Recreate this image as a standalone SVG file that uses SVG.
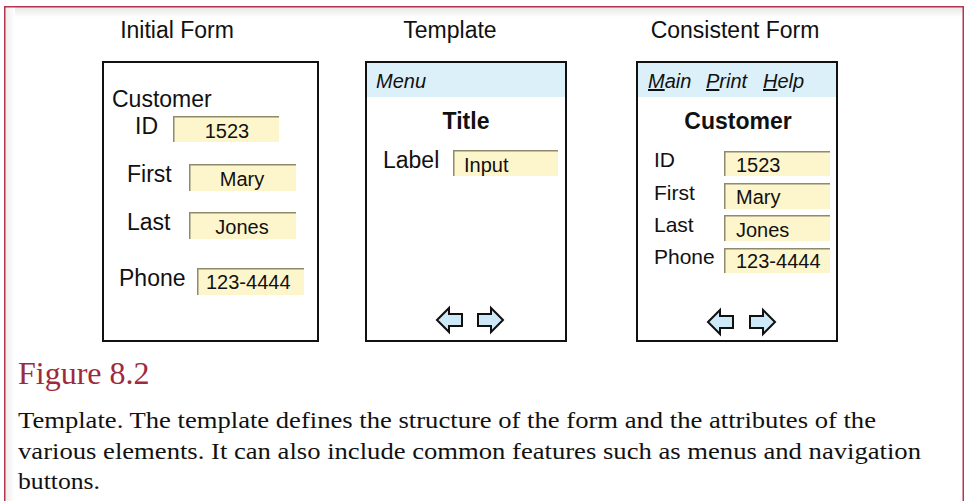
<svg xmlns="http://www.w3.org/2000/svg" width="966" height="501" viewBox="0 0 966 501">
  <style>
    .hdr { font-family: "Liberation Sans", Arial, sans-serif; font-size: 23px; fill: #111; }
    .lbl { font-family: "Liberation Sans", Arial, sans-serif; font-size: 23px; fill: #111; }
    .lbl2 { font-family: "Liberation Sans", Arial, sans-serif; font-size: 21px; fill: #111; }
    .val { font-family: "Liberation Sans", Arial, sans-serif; font-size: 20px; fill: #111; }
    .ttl { font-family: "Liberation Sans", Arial, sans-serif; font-size: 23px; font-weight: bold; fill: #111; }
    .menu { font-family: "Liberation Sans", Arial, sans-serif; font-size: 20px; font-style: italic; fill: #111; }
    .frame { fill: #fff; stroke: #111; stroke-width: 2; }
    .bar { fill: #dcf0fa; }
    .field { fill: #fdf6cc; }
    .edge { fill: none; stroke: #8e8a6c; stroke-width: 1.5; }
    .nav { fill: #cde9f7; stroke: #111; stroke-width: 2; stroke-linejoin: miter; }
    .fig { font-family: "Liberation Serif", "Times New Roman", serif; font-size: 32px; fill: #9e2a3d; }
    .cap { font-family: "Liberation Serif", "Times New Roman", serif; font-size: 24px; fill: #111; }
  </style>
  <defs>
    <linearGradient id="shadeTop" x1="0" y1="0" x2="0" y2="1">
      <stop offset="0" stop-color="#e6e6e6"/>
      <stop offset="1" stop-color="#ffffff"/>
    </linearGradient>
    <linearGradient id="shadeLeft" x1="0" y1="0" x2="1" y2="0">
      <stop offset="0" stop-color="#ececec"/>
      <stop offset="1" stop-color="#ffffff"/>
    </linearGradient>
  </defs>

  <rect width="966" height="501" fill="#fff"/>
  <!-- panel border with soft inner shading -->
  <rect x="5" y="7" width="958" height="10" fill="url(#shadeTop)"/>
  <rect x="5" y="7" width="10" height="494" fill="url(#shadeLeft)"/>
  <path d="M4.75,501 V6.75 H963.25 V501" fill="none" stroke="#b3374d" stroke-width="1.5"/>

  <!-- column headings -->
  <text class="hdr" x="177" y="38" text-anchor="middle">Initial Form</text>
  <text class="hdr" x="450" y="38" text-anchor="middle">Template</text>
  <text class="hdr" x="735" y="38" text-anchor="middle">Consistent Form</text>

  <!-- Initial form -->
  <g id="initial-form">
    <rect class="frame" x="103" y="62" width="215" height="279"/>
    <text class="lbl" x="112" y="107">Customer</text>
    <text class="lbl" x="135" y="134">ID</text>
    <rect class="field" x="173" y="116" width="106" height="26"/>
    <path class="edge" d="M173.75,142 V116.75 H279"/>
    <text class="val" x="227" y="138" text-anchor="middle">1523</text>

    <text class="lbl" x="127" y="182">First</text>
    <rect class="field" x="189" y="164" width="107" height="27"/>
    <path class="edge" d="M189.75,191 V164.75 H296"/>
    <text class="val" x="242" y="186" text-anchor="middle">Mary</text>

    <text class="lbl" x="127" y="230">Last</text>
    <rect class="field" x="189" y="212" width="107" height="27"/>
    <path class="edge" d="M189.75,239 V212.75 H296"/>
    <text class="val" x="242" y="234" text-anchor="middle">Jones</text>

    <text class="lbl" x="119" y="286">Phone</text>
    <rect class="field" x="197" y="268" width="107" height="27"/>
    <path class="edge" d="M197.75,295 V268.75 H304"/>
    <text class="val" x="206" y="289">123-4444</text>
  </g>

  <!-- Template -->
  <g id="template">
    <rect class="frame" x="366" y="62" width="200" height="279"/>
    <rect class="bar" x="367" y="63" width="198" height="34"/>
    <text class="menu" x="376" y="88">Menu</text>
    <text class="ttl" x="466" y="129" text-anchor="middle">Title</text>
    <text class="lbl" x="383" y="168">Label</text>
    <rect class="field" x="453" y="150" width="105" height="26"/>
    <path class="edge" d="M453.75,176 V150.75 H558"/>
    <text class="val" x="464" y="172">Input</text>
    <path class="nav" d="M437,320 L449,308 V314 H462 V326 H449 V332 Z"/>
    <path class="nav" d="M503,320 L491,308 V314 H478 V326 H491 V332 Z"/>
  </g>

  <!-- Consistent form -->
  <g id="consistent-form">
    <rect class="frame" x="637" y="62" width="200" height="279"/>
    <rect class="bar" x="638" y="63" width="198" height="34"/>
    <text class="menu" y="88"><tspan x="648" text-decoration="underline">M</tspan>ain<tspan x="706" text-decoration="underline">P</tspan>rint<tspan x="763" text-decoration="underline">H</tspan>elp</text>
    <text class="ttl" x="738" y="129" text-anchor="middle">Customer</text>

    <text class="lbl2" x="654" y="167">ID</text>
    <rect class="field" x="724" y="151" width="106" height="25"/>
    <path class="edge" d="M724.75,176 V151.75 H830"/>
    <text class="val" x="736" y="172">1523</text>

    <text class="lbl2" x="654" y="200">First</text>
    <rect class="field" x="724" y="183" width="106" height="26"/>
    <path class="edge" d="M724.75,209 V183.75 H830"/>
    <text class="val" x="736" y="204">Mary</text>

    <text class="lbl2" x="654" y="232">Last</text>
    <rect class="field" x="724" y="215" width="106" height="26"/>
    <path class="edge" d="M724.75,241 V215.75 H830"/>
    <text class="val" x="736" y="237">Jones</text>

    <text class="lbl2" x="654" y="264">Phone</text>
    <rect class="field" x="724" y="248" width="106" height="25"/>
    <path class="edge" d="M724.75,273 V248.75 H830"/>
    <text class="val" x="736" y="268">123-4444</text>

    <path class="nav" d="M708,322 L720,310 V316 H733 V328 H720 V334 Z"/>
    <path class="nav" d="M775,322 L763,310 V316 H750 V328 H763 V334 Z"/>
  </g>

  <!-- caption -->
  <text class="fig" x="18" y="384">Figure 8.2</text>
  <text class="cap" x="18" y="428" textLength="858" lengthAdjust="spacingAndGlyphs">Template. The template defines the structure of the form and the attributes of the</text>
  <text class="cap" x="18" y="459" textLength="903" lengthAdjust="spacingAndGlyphs">various elements. It can also include common features such as menus and navigation</text>
  <text class="cap" x="18" y="489" textLength="82" lengthAdjust="spacingAndGlyphs">buttons.</text>
</svg>
